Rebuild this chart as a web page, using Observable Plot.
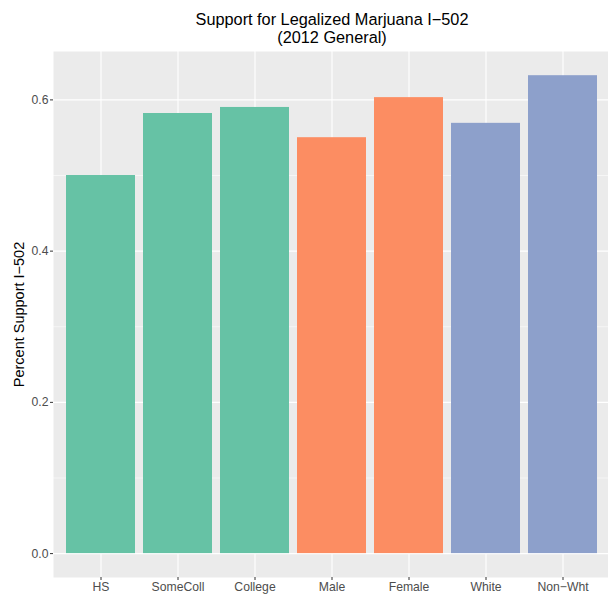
<!DOCTYPE html>
<html>
<head>
<meta charset="utf-8">
<script src="https://cdn.jsdelivr.net/npm/d3@7"></script>
<script src="https://cdn.jsdelivr.net/npm/@observablehq/plot@0.6"></script>
<style>
  html, body { margin: 0; padding: 0; background: white; overflow: hidden; }
  #wrap { width: 608px; height: 597px; position: relative; font-family: "Liberation Sans", Arial, sans-serif; }
  #title { height: 50px; width: 608px; position: relative; }
  #title div { position: absolute; left: 0; width: 664px; text-align: center; font-size: 16.3px; color: #000; line-height: 18px; }
  svg { overflow: hidden; }
</style>
</head>
<body>
<div id="wrap">
  <div id="title">
    <div style="top: 10px;">Support for Legalized Marjuana I−502</div>
    <div style="top: 28px;">(2012 General)</div>
  </div>
  <div id="chart"></div>
</div>
<script>
const categories = ["HS", "SomeColl", "College", "Male", "Female", "White", "Non−Wht"];
const support = [0.500, 0.582, 0.590, 0.550, 0.603, 0.569, 0.632];
const groups = ["edu", "edu", "edu", "sex", "sex", "race", "race"];
const groupNames = ["edu", "sex", "race"];
const groupColors = ["#66C2A5", "#FC8D62", "#8DA0CB"];
const yMajor = [0, 0.2, 0.4, 0.6];
const yMinor = [0.1, 0.3, 0.5];

const data = categories.map((c, i) => ({cat: c, val: support[i], grp: groups[i]}));

const chart = Plot.plot({
  width: 608,
  height: 547,
  marginTop: 1,
  marginBottom: 20,
  marginLeft: 53,
  marginRight: -3,
  style: {fontFamily: "Liberation Sans, Arial, sans-serif", fontSize: "12.2px", background: "white"},
  x: {domain: categories, paddingInner: 0.1, paddingOuter: 0.15, align: 0.5},
  y: {domain: [-0.0316, 0.664]},
  color: {domain: groupNames, range: groupColors},
  marks: [
    Plot.frame({fill: "#EBEBEB", stroke: null}),
    Plot.gridY(yMinor, {stroke: "white", strokeOpacity: 1, strokeWidth: 0.55}),
    Plot.gridY(yMajor, {stroke: "white", strokeOpacity: 1, strokeWidth: 1.1}),
    Plot.gridX({stroke: "white", strokeOpacity: 1, strokeWidth: 1.1}),
    Plot.barY(data, {x: "cat", y: "val", fill: "grp"}),
    Plot.axisY(yMajor, {
      tickFormat: d => d.toFixed(1), tickSize: 3, tickPadding: 2,
      stroke: "#333333", color: "#4D4D4D", fill: "#4D4D4D", fontSize: 12.2,
      label: "Percent Support I−502", labelAnchor: "center", labelArrow: "none", labelOffset: 40
    }),
    Plot.axisX({
      tickSize: 3, tickPadding: 2, stroke: "#333333", color: "#4D4D4D", fill: "#4D4D4D", fontSize: 12.2,
      label: null
    })
  ]
});
document.getElementById("chart").appendChild(chart);
chart.querySelectorAll("g[aria-label='y-axis label'] text").forEach(t => {
  t.setAttribute("fill", "#000");
  t.style.fontSize = "14.5px";
});
</script>
</body>
</html>
